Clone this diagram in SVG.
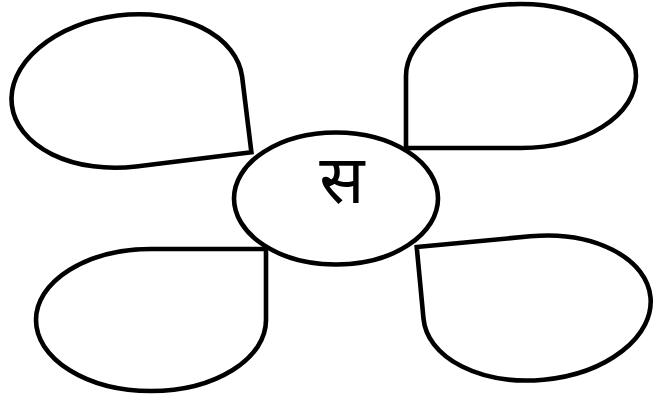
<svg xmlns="http://www.w3.org/2000/svg" width="653" height="397" viewBox="0 0 653 397">
<style>
.s{fill:none;stroke:#000;stroke-width:4.6;stroke-linejoin:miter}
.t{font-family:"Noto Sans Devanagari","Noto Serif Devanagari","Noto Sans","Lohit Devanagari","FreeSerif","DejaVu Sans",sans-serif;font-size:67px;fill:#000}
</style>
<rect width="653" height="397" fill="#fff"/>
<g id="petal-top-left" transform="translate(127,91) rotate(-7)">
<path class="s" d="M116,76 L0,76 A116,76 0 0 1 -116,0 A116,76 0 0 1 0,-76 A116,76 0 0 1 116,0 Z"/>
</g>
<g id="petal-top-right">
<path class="s" d="M406,148 L406,76 A115,72 0 0 1 521,4 A115,72 0 0 1 636,76 A115,72 0 0 1 521,148 Z"/>
</g>
<g id="petal-bottom-left">
<path class="s" d="M266,249 L266,320 A115,71 0 0 1 151,391 A115,71 0 0 1 36,320 A115,71 0 0 1 151,249 Z"/>
</g>
<g id="petal-bottom-right" transform="translate(537,308) rotate(-5.4)">
<path class="s" d="M-114,-72 L0,-72 A114,72 0 0 1 114,0 A114,72 0 0 1 0,72 A114,72 0 0 1 -114,0 Z"/>
</g>
<g id="center">
<ellipse class="s" cx="336" cy="198.5" rx="102" ry="66"/>
<text class="t" x="342" y="203" text-anchor="middle">स</text>
</g>
</svg>
